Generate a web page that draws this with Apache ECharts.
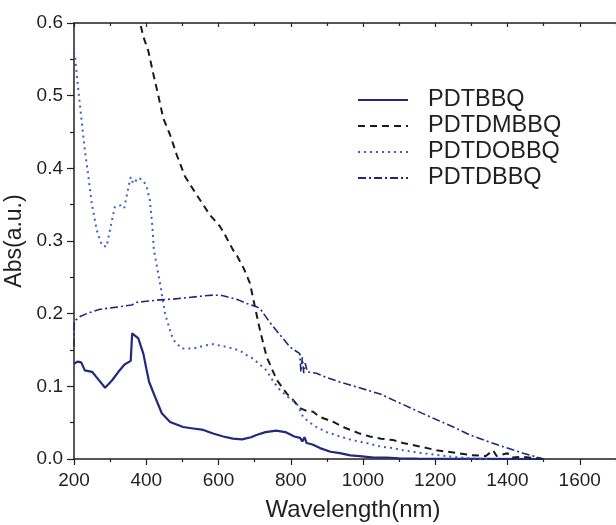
<!DOCTYPE html>
<html>
<head>
<meta charset="utf-8">
<script src="https://cdn.jsdelivr.net/npm/echarts@6/dist/echarts.min.js"></script>
<style>
  html, body { margin: 0; padding: 0; background: #fff; }
  #chart { width: 616px; height: 525px; }
</style>
</head>
<body>
<div id="chart"></div>
<script>
//  series names
const seriesNames = ['PDTBBQ', 'PDTDMBBQ', 'PDTDOBBQ', 'PDTDBBQ'];

//  [wavelength(nm), abs]
const pdtbbq = [
    [200, 0.131], [210, 0.134], [220, 0.133], [230, 0.122], [250, 0.120], [265, 0.111],
    [286, 0.098], [305, 0.108], [323, 0.120], [340, 0.130], [357, 0.135], [361, 0.173],
    [378, 0.166], [392, 0.145], [400, 0.125], [408, 0.106], [424, 0.086], [443, 0.063],
    [466, 0.051], [502, 0.044], [530, 0.042], [558, 0.040], [585, 0.035], [613, 0.031],
    [640, 0.028], [665, 0.027], [690, 0.030], [705, 0.033], [730, 0.037], [760, 0.039],
    [785, 0.037], [810, 0.031], [826, 0.029], [832, 0.024], [838, 0.030], [844, 0.022],
    [860, 0.020], [881, 0.015], [910, 0.010], [936, 0.008], [965, 0.005], [991, 0.004],
    [1030, 0.002], [1065, 0.002], [1100, 0.001], [1150, 0.0005], [1500, 0]
];
const pdtdmbbq = [
    [378, 0.612], [383, 0.600], [392, 0.581], [406, 0.561], [419, 0.531], [433, 0.501],
    [447, 0.469], [466, 0.446], [484, 0.419], [507, 0.389], [539, 0.364], [576, 0.336],
    [604, 0.320], [613, 0.313], [641, 0.287], [650, 0.281], [670, 0.262], [687, 0.242],
    [701, 0.209], [715, 0.177], [733, 0.141], [761, 0.109], [789, 0.090], [805, 0.082],
    [825, 0.070], [845, 0.066], [862, 0.065], [880, 0.058], [918, 0.051], [950, 0.043],
    [991, 0.035], [1019, 0.031], [1050, 0.028], [1084, 0.026], [1111, 0.022], [1150, 0.018],
    [1204, 0.012], [1250, 0.009], [1296, 0.0055], [1340, 0.004], [1360, 0.012], [1370, 0.004],
    [1400, 0.008], [1410, 0.002], [1440, 0.003], [1480, 0.001], [1500, 0]
];
const pdtdobbq = [
    [200, 0.560], [203, 0.553], [212, 0.508], [221, 0.466], [230, 0.425], [240, 0.388],
    [249, 0.352], [263, 0.315], [277, 0.294], [290, 0.292], [304, 0.326], [313, 0.347],
    [329, 0.349], [339, 0.345], [347, 0.365], [357, 0.388], [364, 0.379], [378, 0.387],
    [392, 0.383], [401, 0.375], [410, 0.356], [417, 0.320], [421, 0.288], [438, 0.242],
    [452, 0.200], [466, 0.177], [475, 0.164], [498, 0.152], [530, 0.152], [560, 0.156],
    [585, 0.158], [615, 0.155], [641, 0.152], [660, 0.149], [678, 0.143], [690, 0.140],
    [705, 0.134], [733, 0.122], [750, 0.108], [770, 0.095], [800, 0.082], [816, 0.077],
    [834, 0.058], [850, 0.051], [871, 0.044], [900, 0.037], [936, 0.031], [970, 0.026],
    [1010, 0.022], [1050, 0.017], [1084, 0.015], [1111, 0.012], [1150, 0.009], [1204, 0.0055],
    [1250, 0.003], [1296, 0.001], [1350, 0]
];
const pdtdbbq = [
    [200, 0.155], [201, 0.190], [217, 0.196], [240, 0.201], [272, 0.206], [318, 0.209],
    [360, 0.212], [373, 0.2155], [400, 0.217], [438, 0.219], [475, 0.220], [512, 0.222],
    [550, 0.224], [585, 0.2256], [610, 0.225], [632, 0.222], [655, 0.219], [678, 0.214],
    [705, 0.2095], [715, 0.207], [742, 0.188], [770, 0.171], [798, 0.154], [825, 0.145],
    [828, 0.120], [832, 0.140], [836, 0.118], [840, 0.132], [846, 0.120], [871, 0.118],
    [900, 0.112], [936, 0.106], [970, 0.101], [1010, 0.095], [1050, 0.089], [1093, 0.079],
    [1111, 0.075], [1150, 0.066], [1204, 0.054], [1250, 0.044], [1296, 0.033], [1340, 0.025],
    [1388, 0.017], [1443, 0.008], [1500, 0]
];

//  axis text
const xName = 'Wavelength(nm)';
const yName = 'Abs(a.u.)';

const FONT = '"Liberation Sans", Arial, sans-serif';
const INK = '#231f20';

function lineSeries(name, data, color, type, width) {
    return {
        name: name,
        type: 'line',
        data: data,
        symbol: 'none',
        smooth: false,
        clip: true,
        lineStyle: {color: color, width: width, type: type},
        itemStyle: {color: color},
    };
}

const myChart = echarts.init(document.getElementById('chart'), null, {renderer: 'canvas'});
myChart.setOption({
    animation: false,
    backgroundColor: '#fff',
    grid: {left: 74, top: 23, right: -36, bottom: 66, containLabel: false, outerBoundsMode: 'none'},
    legend: {
        orient: 'vertical',
        left: 357,
        top: 88,
        padding: 0,
        itemWidth: 50,
        itemHeight: 14,
        itemGap: 2,
        itemStyle: {color: 'transparent', borderWidth: 0, opacity: 0},
        textStyle: {fontFamily: FONT, fontSize: 23.5, color: INK, lineHeight: 24, padding: [0, 0, 0, 15]},
        data: seriesNames,
    },
    xAxis: [{
        type: 'value',
        position: 'bottom',
        min: 200,
        max: 1800,
        interval: 200,
        name: xName,
        nameLocation: 'middle',
        nameGap: 39,
        nameTextStyle: {fontFamily: FONT, fontSize: 24, color: INK, padding: [0, 20, 0, 0]},
        axisLine: {show: true, lineStyle: {color: INK, width: 1.5}},
        axisTick: {show: true, inside: false, length: 6, lineStyle: {color: INK, width: 1.2}},
        minorTick: {show: true, splitNumber: 2, length: 3, lineStyle: {color: INK, width: 1.2}},
        splitLine: {show: false},
        axisLabel: {
            fontFamily: FONT, fontSize: 19, color: INK, margin: 12,
            formatter: function (v) { return String(v); }
        },
    }, {
        type: 'value',
        position: 'top',
        min: 200,
        max: 1800,
        interval: 200,
        axisLine: {show: true, lineStyle: {color: INK, width: 1.5}},
        axisTick: {show: true, inside: true, length: 4, lineStyle: {color: INK, width: 1.2}},
        minorTick: {show: true, splitNumber: 2, length: 3, lineStyle: {color: INK, width: 1.2}},
        splitLine: {show: false},
        axisLabel: {show: false},
    }],
    yAxis: {
        type: 'value',
        min: 0,
        max: 0.6,
        interval: 0.1,
        name: yName,
        nameLocation: 'middle',
        nameGap: 44,
        nameTextStyle: {fontFamily: FONT, fontSize: 23, color: INK},
        axisLine: {show: true, lineStyle: {color: INK, width: 1.5}},
        axisTick: {show: true, inside: false, length: 7, lineStyle: {color: INK, width: 1.2}},
        minorTick: {show: true, splitNumber: 2, length: 4, lineStyle: {color: INK, width: 1.2}},
        splitLine: {show: false},
        axisLabel: {
            fontFamily: FONT, fontSize: 19, color: INK, margin: 11,
            formatter: function (v) { return v.toFixed(1); }
        },
    },
    series: [
        lineSeries(seriesNames[0], pdtbbq, '#232a7d', 'solid', 2.2),
        lineSeries(seriesNames[1], pdtdmbbq, '#1a1a1a', [7, 5], 2),
        lineSeries(seriesNames[2], pdtdobbq, '#3c5fc4', [2, 4], 2),
        lineSeries(seriesNames[3], pdtdbbq, '#1e2a78', [8, 3, 2, 3], 1.6),
    ],
});
</script>
</body>
</html>
